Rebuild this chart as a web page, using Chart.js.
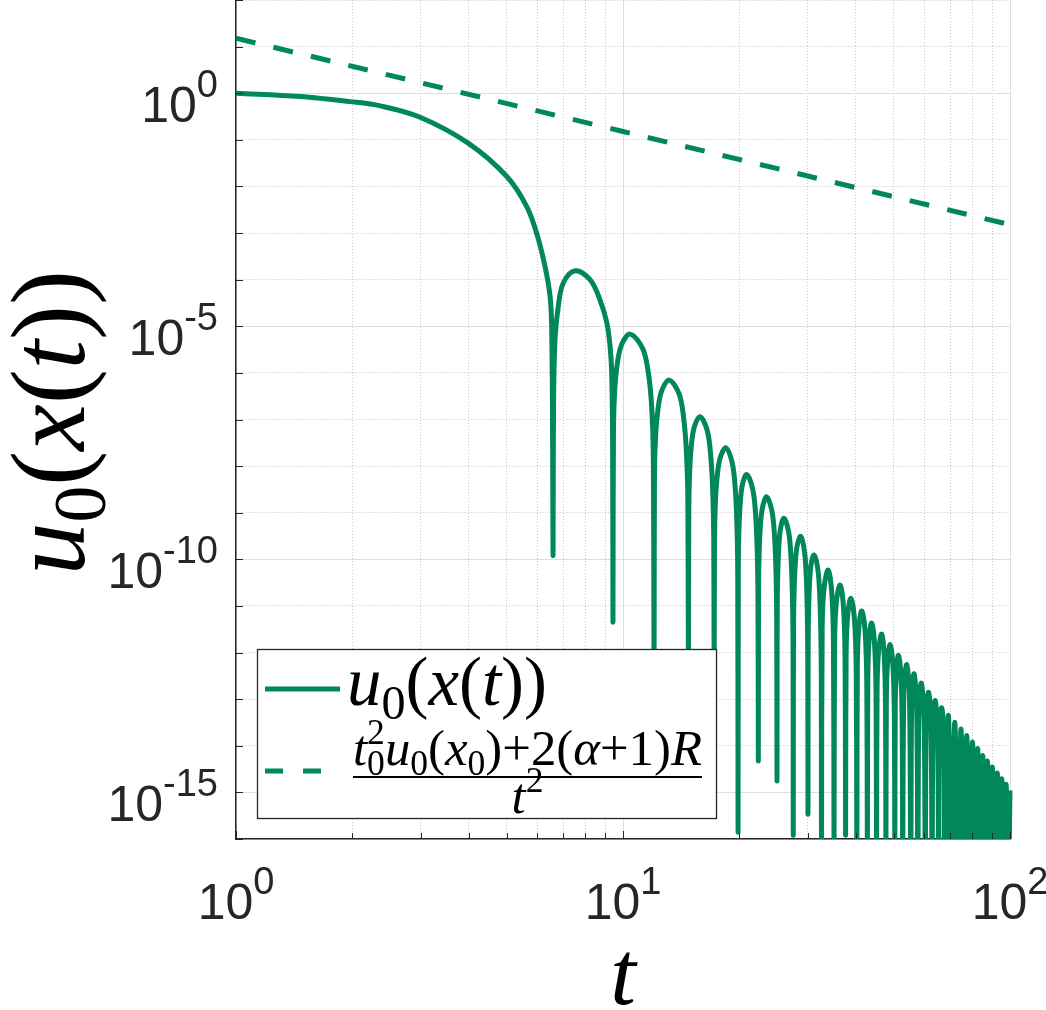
<!DOCTYPE html>
<html>
<head>
<meta charset="utf-8">
<script src="https://cdn.jsdelivr.net/npm/chart.js@4.4.1/dist/chart.umd.min.js"></script>
<style>
  html, body { margin: 0; padding: 0; background: #fff; }
  canvas { display: block; }
</style>
</head>
<body>
<canvas id="chart" width="1046" height="1010"></canvas>
<script>
// smooth part of u0(x(t)) before the first zero
var decayT = [1.0, 1.46, 1.97, 2.36, 2.99, 3.98, 5.01, 5.64, 5.98, 6.29, 6.48, 6.54, 6.575];
var decayU = [1.0, 0.85, 0.66, 0.535, 0.306, 0.085, 0.0163, 3.7e-3, 1.0e-3, 1.9e-4, 4.4e-5, 1.0e-5, 1.0e-7];

// oscillating part, one line per lobe (first value of each line = the zero / dip)
var lobeT = [
  6.595, 6.615, 6.672, 6.804, 7.01, 7.52, 8.22, 8.72, 9.08, 9.26, 9.35, 9.40,
  9.42, 9.45, 9.52, 9.67, 9.925, 10.43, 11.23, 11.63, 11.87, 11.98,
  12.03, 12.06, 12.14, 12.32, 12.6, 13.17, 13.97, 14.36, 14.6, 14.71,
  14.76, 14.79, 14.865, 15.02, 15.285, 15.81, 16.505, 16.85, 17.06, 17.16,
  17.2, 17.24, 17.325, 17.51, 17.825, 18.45, 19.14, 19.485, 19.69, 19.79,
  19.83, 19.86, 19.93, 20.09, 20.35, 20.87, 21.62, 22.0, 22.22, 22.325,
  22.37, 22.4, 22.48, 22.65, 22.935, 23.5, 24.25, 24.625, 24.85, 24.955,
  25.0, 25.03, 25.11, 25.265, 25.53, 26.06, 26.8, 27.17, 27.39, 27.5,
  27.54, 27.58, 27.67, 27.855, 28.17, 28.8, 29.43, 29.745, 29.935, 30.02,
  30.06, 30.09, 30.17, 30.335, 30.61, 31.16, 31.87, 32.225, 32.44, 32.54,
  32.58, 32.71, 33.11, 33.9, 34.62, 34.98,
  35.1, 35.23, 35.62, 36.4, 37.12, 37.48,
  37.6, 37.72, 38.08, 38.8, 39.64, 40.06,
  40.2, 40.32, 40.68, 41.4, 42.24, 42.66,
  42.8, 42.91, 43.24, 43.9, 44.68, 45.07,
  45.2, 45.34, 45.76, 46.6, 47.32, 47.68,
  47.8, 47.92, 48.28, 49.0, 49.84, 50.26,
  50.4, 50.51, 50.84, 51.5, 52.28, 52.67,
  52.8, 53.19, 54.1, 55.01,
  55.4, 55.73, 56.5, 57.41,
  57.8, 58.16, 59.0, 59.98,
  60.4, 60.76, 61.6, 62.51,
  62.9, 63.26, 64.1, 65.01,
  65.4, 65.76, 66.6, 67.51,
  67.9, 69.3, 70.6, 72.0, 73.4, 74.7, 76.0, 77.3, 78.7, 80.0, 81.3, 82.5, 83.8,
  85.0, 86.2, 87.4, 88.7, 90.0, 91.3, 92.7, 94.0, 95.2, 96.4, 97.7, 99.0, 100
];
var lobeU = [
  1.2e-10, 1.9e-7, 5.2e-6, 2.7e-5, 8.5e-5, 1.55e-4, 1.0e-4, 3.7e-5, 1.2e-5, 3.7e-6, 1.0e-6, 3.7e-8,
  4.5e-12, 6.8e-8, 4.3e-7, 1.6e-6, 4.1e-6, 6.8e-6, 3.4e-6, 1.0e-6, 1.7e-7, 1.5e-8,
  1e-13, 7.0e-9, 4.4e-8, 1.7e-7, 4.2e-7, 7.0e-7, 3.5e-7, 1.0e-7, 1.7e-8, 1.6e-9,
  1e-13, 1.1e-9, 7.2e-9, 2.8e-8, 6.9e-8, 1.15e-7, 5.8e-8, 1.7e-8, 2.8e-9, 2.6e-10,
  1e-13, 2.5e-10, 1.6e-9, 5.9e-9, 1.5e-8, 2.47e-8, 1.2e-8, 3.6e-9, 6.0e-10, 5.5e-11,
  1.4e-16, 6.6e-11, 4.2e-10, 1.6e-9, 4.0e-9, 6.6e-9, 3.3e-9, 9.8e-10, 1.6e-10, 1.5e-11,
  4.7e-15, 2.2e-11, 1.4e-10, 5.3e-10, 1.3e-9, 2.2e-9, 1.1e-9, 3.3e-10, 5.4e-11, 4.9e-12,
  1.75e-15, 7.6e-12, 4.8e-11, 1.8e-10, 4.6e-10, 7.6e-10, 3.8e-10, 1.1e-10, 1.9e-11, 1.7e-12,
  1.2e-16, 3.1e-12, 1.9e-11, 7.4e-11, 1.9e-10, 3.1e-10, 1.5e-10, 4.6e-11, 7.6e-12, 6.9e-13,
  3.4e-16, 1.2e-12, 7.8e-12, 3.0e-11, 7.5e-11, 1.24e-10, 6.2e-11, 1.8e-11, 3.0e-12, 2.8e-13,
  1e-17, 3.7e-12, 2.6e-11, 5.9e-11, 2.0e-11, 1.5e-12,
  1e-17, 1.8e-12, 1.3e-11, 2.8e-11, 9.8e-12, 7.1e-13,
  1.2e-16, 9.1e-13, 6.5e-12, 1.45e-11, 5.0e-12, 3.6e-13,
  1e-17, 4.9e-13, 3.5e-12, 7.8e-12, 2.7e-12, 1.9e-13,
  1e-17, 2.7e-13, 1.9e-12, 4.3e-12, 1.5e-12, 1.1e-13,
  1e-17, 1.5e-13, 1.1e-12, 2.5e-12, 8.5e-13, 6.2e-14,
  1e-17, 9.3e-14, 6.6e-13, 1.47e-12, 5.1e-13, 3.7e-14,
  1e-17, 5.5e-14, 3.9e-13, 8.7e-13, 3.0e-13, 2.2e-14,
  1e-17, 1.5e-13, 5.5e-13, 9.8e-14,
  1e-17, 9.8e-14, 3.5e-13, 6.2e-14,
  1e-17, 6.2e-14, 2.2e-13, 3.9e-14,
  1e-17, 4.0e-14, 1.4e-13, 2.5e-14,
  1e-17, 2.6e-14, 9.3e-14, 1.7e-14,
  1e-17, 1.8e-14, 6.5e-14, 1.1e-14,
  1e-17, 4.5e-14, 1e-17, 3.2e-14, 1e-17, 2.3e-14, 1e-17, 1.66e-14, 1e-17, 1.2e-14, 1e-17, 8.7e-15, 1e-17,
  6.2e-15, 1e-17, 4.7e-15, 1e-17, 3.5e-15, 1e-17, 2.6e-15, 1e-17, 1.97e-15, 1e-17, 1.5e-15, 1e-17, 1.1e-15
];

// dashed bound (t0^2 u0(x0) + 2(a+1)R) / t^2
var boundT = [1, 10, 100];
var boundU = [15.1, 0.151, 0.00151];

var xTickVals = [1, 2, 3, 4, 5, 6, 7, 8, 9, 10, 20, 30, 40, 50, 60, 70, 80, 90, 100];
var yTickVals = [1e-16, 1e-15, 1e-14, 1e-13, 1e-12, 1e-11, 1e-10, 1e-9, 1e-8, 1e-7, 1e-6,
                 1e-5, 1e-4, 1e-3, 1e-2, 1e-1, 1, 10, 100];
var xLabelVals = [1, 10, 100];
var xLabelExp = ['0', '1', '2'];
var yLabelVals = [1, 1e-5, 1e-10, 1e-15];
var yLabelExp = ['0', '-5', '-10', '-15'];

var green = '#00875a';
var axisColor = '#262626';

function isMajorX(v) { var l = Math.log10(v); return Math.abs(l - Math.round(l)) < 1e-6; }
function isMajorY(v) { return Math.round(Math.log10(v)) % 5 === 0; }

var allT = decayT.concat(lobeT);
var allU = decayU.concat(lobeU);
var uPoints = allT.map(function (t, i) { return { x: t, y: allU[i] }; });
var boundPoints = boundT.map(function (t, i) { return { x: t, y: boundU[i] }; });

// --- math-ish text helpers (italic variables, small sub/superscripts)
var SERIF = '"Liberation Serif", "Times New Roman", serif';
var SANS = '"Liberation Sans", Arial, Helvetica, sans-serif';
function IT(t) { return { t: t, it: true }; }
function RM(t) { return { t: t }; }
function SUB(t) { return { t: t, s: 0.7, dy: 0.2 }; }
function SUP(t, stack) { return { t: t, s: 0.7, dy: -0.42, stack: stack }; }
function runFont(r, size) { return (r.it ? 'italic ' : '') + (size * (r.s || 1)).toFixed(2) + 'px ' + SERIF; }
function runsWidth(ctx, runs, size) {
  var w = 0;
  runs.forEach(function (r) { ctx.font = runFont(r, size); if (!r.stack) w += ctx.measureText(r.t).width; });
  return w;
}
function drawRuns(ctx, runs, x, y, size) {
  runs.forEach(function (r) {
    ctx.font = runFont(r, size);
    ctx.fillText(r.t, x, y + (r.dy || 0) * size);
    if (!r.stack) x += ctx.measureText(r.t).width;
  });
}
function fitSize(ctx, runs, target) { return 40 * target / runsWidth(ctx, runs, 40); }

var uRuns = [IT('u'), SUB('0'), RM('('), IT('x'), RM('('), IT('t'), RM(')'), RM(')')];
var numRuns = [IT('t'), SUP('2', true), SUB('0'), IT('u'), SUB('0'), RM('('), IT('x'), SUB('0'), RM(')'),
               RM('+'), RM('2'), RM('('), IT('\u03b1'), RM('+'), RM('1'), RM(')'), IT('R')];
var denRuns = [IT('t'), SUP('2')];

function drawPower(ctx, exp, x, baseY, align) {
  var baseFont = '50px ' + SANS, supFont = '38px ' + SANS;
  ctx.font = baseFont; var wb = ctx.measureText('10').width;
  ctx.font = supFont; var we = ctx.measureText(exp).width;
  var x0 = align === 'right' ? x - wb - we : x - (wb + we) / 2;
  ctx.font = baseFont; ctx.fillText('10', x0, baseY);
  ctx.font = supFont; ctx.fillText(exp, x0 + wb, baseY - 25);
}

var decorPlugin = {
  id: 'decor',
  afterDatasetsDraw: function (chart) {
    var ctx = chart.ctx, a = chart.chartArea, xs = chart.scales.x, ys = chart.scales.y;
    ctx.save();
    ctx.textAlign = 'left';
    ctx.textBaseline = 'alphabetic';

    // inward tick marks
    ctx.strokeStyle = axisColor; ctx.lineWidth = 1;
    ctx.beginPath();
    yTickVals.forEach(function (v) {
      var y = Math.round(ys.getPixelForValue(v)) + 0.5;
      ctx.moveTo(a.left, y); ctx.lineTo(a.left + 7, y);
    });
    xTickVals.forEach(function (v) {
      var x = Math.round(xs.getPixelForValue(v)) + 0.5;
      ctx.moveTo(x, a.bottom); ctx.lineTo(x, a.bottom - (isMajorX(v) ? 8 : 6));
    });
    ctx.stroke();

    // tick labels 10^n
    ctx.fillStyle = axisColor;
    yLabelVals.forEach(function (v, i) {
      drawPower(ctx, yLabelExp[i], a.left - 18, ys.getPixelForValue(v) + 29, 'right');
    });
    xLabelVals.forEach(function (v, i) {
      drawPower(ctx, xLabelExp[i], xs.getPixelForValue(v), a.bottom + 80, 'center');
    });

    // axis titles
    ctx.fillStyle = '#000';
    ctx.font = 'italic 92px ' + SERIF;
    var tw = ctx.measureText('t').width;
    ctx.fillText('t', (a.left + a.right) / 2 - tw / 2, 1004);

    var ySize = fitSize(ctx, uRuns, 305);
    ctx.save();
    ctx.translate(84, (a.top + a.bottom) / 2 + 3);
    ctx.rotate(-Math.PI / 2);
    drawRuns(ctx, uRuns, -runsWidth(ctx, uRuns, ySize) / 2, 0, ySize);
    ctx.restore();

    // legend box
    var lx = a.left + 21, lb = a.bottom - 21, lw = 459, lh = 169, ly = lb - lh;
    ctx.fillStyle = '#fff';
    ctx.fillRect(lx, ly, lw, lh);
    ctx.strokeStyle = axisColor; ctx.lineWidth = 1.3;
    ctx.strokeRect(lx + 0.5, ly + 0.5, lw, lh);

    ctx.strokeStyle = green; ctx.lineWidth = 5;
    ctx.beginPath(); ctx.moveTo(lx + 8, ly + 40); ctx.lineTo(lx + 83, ly + 40); ctx.stroke();
    ctx.setLineDash([18, 20]);
    ctx.beginPath(); ctx.moveTo(lx + 8, ly + 122); ctx.lineTo(lx + 65, ly + 122); ctx.stroke();
    ctx.setLineDash([]);

    ctx.fillStyle = '#000';
    var s1 = fitSize(ctx, uRuns, 200);
    drawRuns(ctx, uRuns, lx + 90, ly + 56, s1);

    var s2 = fitSize(ctx, numRuns, 349);
    var nx = lx + 96;
    drawRuns(ctx, numRuns, nx, ly + 116, s2);
    ctx.fillRect(nx, ly + 127, 349, 2);
    var dw = runsWidth(ctx, denRuns, s2);
    drawRuns(ctx, denRuns, nx + 349 / 2 - dw / 2, ly + 164, s2);

    ctx.restore();
  }
};

new Chart(document.getElementById('chart'), {
  type: 'line',
  data: {
    datasets: [
      {
        label: 'u0(x(t))',
        data: uPoints,
        borderColor: green,
        borderWidth: 5,
        pointRadius: 0,
        tension: 0.35,
        clip: { left: 0, top: 0, right: 3, bottom: 0 }
      },
      {
        label: 'bound',
        data: boundPoints,
        borderColor: green,
        borderWidth: 5,
        borderDash: [20, 18.5],
        pointRadius: 0,
        tension: 0,
        clip: { left: 0, top: 0, right: 3, bottom: 0 }
      }
    ]
  },
  options: {
    responsive: false,
    animation: false,
    devicePixelRatio: 1,
    layout: { padding: { left: 0, right: 36, top: 0, bottom: 0 } },
    plugins: { legend: { display: false }, tooltip: { enabled: false } },
    scales: {
      x: {
        type: 'logarithmic', min: 1, max: 100,
        afterBuildTicks: function (s) { s.ticks = xTickVals.map(function (v) { return { value: v }; }); },
        afterFit: function (s) { s.height = 171; },
        ticks: { display: false },
        grid: {
          drawTicks: false, lineWidth: 1,
          color: function (c) { return c.tick && isMajorX(c.tick.value) ? '#dedede' : '#c4c4c4'; }
        },
        border: {
          display: true, color: axisColor, width: 1.5,
          dash: function (c) { return c.tick && !isMajorX(c.tick.value) ? [1, 2] : []; }
        }
      },
      y: {
        type: 'logarithmic', min: 1e-16, max: 1e2,
        afterBuildTicks: function (s) { s.ticks = yTickVals.map(function (v) { return { value: v }; }); },
        afterFit: function (s) { s.width = 236; },
        ticks: { display: false },
        grid: {
          drawTicks: false, lineWidth: 1,
          color: function (c) { return c.tick && isMajorY(c.tick.value) ? '#dedede' : '#c4c4c4'; }
        },
        border: {
          display: true, color: axisColor, width: 1.5,
          dash: function (c) { return c.tick && !isMajorY(c.tick.value) ? [1, 2] : []; }
        }
      }
    }
  },
  plugins: [decorPlugin]
});
</script>
</body>
</html>
